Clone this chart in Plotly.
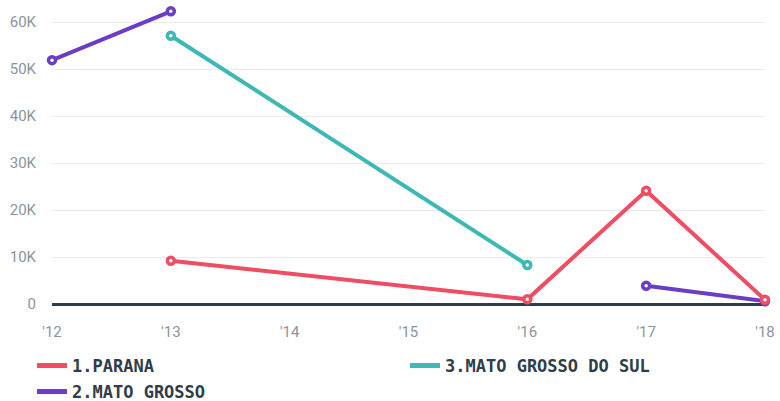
import plotly.graph_objects as go

years = [2012, 2013, 2014, 2015, 2016, 2017, 2018]
tick_text = ["'12", "'13", "'14", "'15", "'16", "'17", "'18"]

parana_x = [2013, 2016, 2017, 2018]
parana_y = [9200, 1000, 24100, 900]

ms_x = [2013, 2016]
ms_y = [57100, 8300]

mg_x = [2012, 2013, 2014, 2015, 2016, 2017, 2018]
mg_y = [51900, 62300, None, None, None, 3900, 600]

yticks = [0, 10000, 20000, 30000, 40000, 50000, 60000]
ytick_text = ["0", "10K", "20K", "30K", "40K", "50K", "60K"]

RED = "#EE4D63"
TEAL = "#3DB8B4"
PURPLE = "#6B3CC6"
DARK = "#2E3D48"

series = [
    ("2.MATO GROSSO", mg_x, mg_y, PURPLE, "legend3"),
    ("3.MATO GROSSO DO SUL", ms_x, ms_y, TEAL, "legend2"),
    ("1.PARANA", parana_x, parana_y, RED, "legend"),
]

fig = go.Figure()
for name, xs, ys, col, lg in series:
    fig.add_trace(go.Scatter(
        x=xs, y=ys, name=name, mode="lines+markers", connectgaps=False,
        cliponaxis=False, showlegend=False,
        line=dict(color=col, width=4),
        marker=dict(size=7, color="white", line=dict(color=col, width=3.5))))
for name, xs, ys, col, lg in series:
    fig.add_trace(go.Scatter(
        x=[None], y=[None], name=name, mode="lines", legend=lg,
        line=dict(color=col, width=5)))

PLOT_L, PLOT_T, PLOT_W, PLOT_H = 52, 8, 713, 296


def lx(px):
    return (px - PLOT_L) / PLOT_W


def ly(py):
    return (PLOT_T + PLOT_H - py) / PLOT_H


leg_common = dict(orientation="v", xanchor="left", yanchor="middle",
                  font=dict(family="DejaVu Sans Mono", size=17, color=DARK, weight="bold"),
                  itemwidth=30, bgcolor="rgba(0,0,0,0)")

fig.update_layout(
    width=780, height=401,
    margin=dict(l=52, r=15, t=8, b=97, autoexpand=False),
    paper_bgcolor="white", plot_bgcolor="white",
    font=dict(family="Roboto, sans-serif", color="#8A949B", size=15),
    showlegend=True,
    legend=dict(x=lx(32), y=ly(366), **leg_common),
    legend2=dict(x=lx(405), y=ly(366), **leg_common),
    legend3=dict(x=lx(32), y=ly(392), **leg_common),
    xaxis=dict(range=[2012, 2018], tickmode="array", tickvals=years, ticktext=tick_text,
               showgrid=False, zeroline=False, showline=False,
               ticks="outside", ticklen=14, tickcolor="rgba(0,0,0,0)"),
    yaxis=dict(range=[0, 63000], tickmode="array", tickvals=yticks, ticktext=ytick_text,
               showgrid=True, gridcolor="#EBEBEB", gridwidth=1,
               zeroline=True, zerolinecolor=DARK, zerolinewidth=3,
               ticks="outside", ticklen=12, tickcolor="rgba(0,0,0,0)"),
)

fig.write_html("out.html", config={"displayModeBar": False},
               post_script="document.body.style.margin='0';")
